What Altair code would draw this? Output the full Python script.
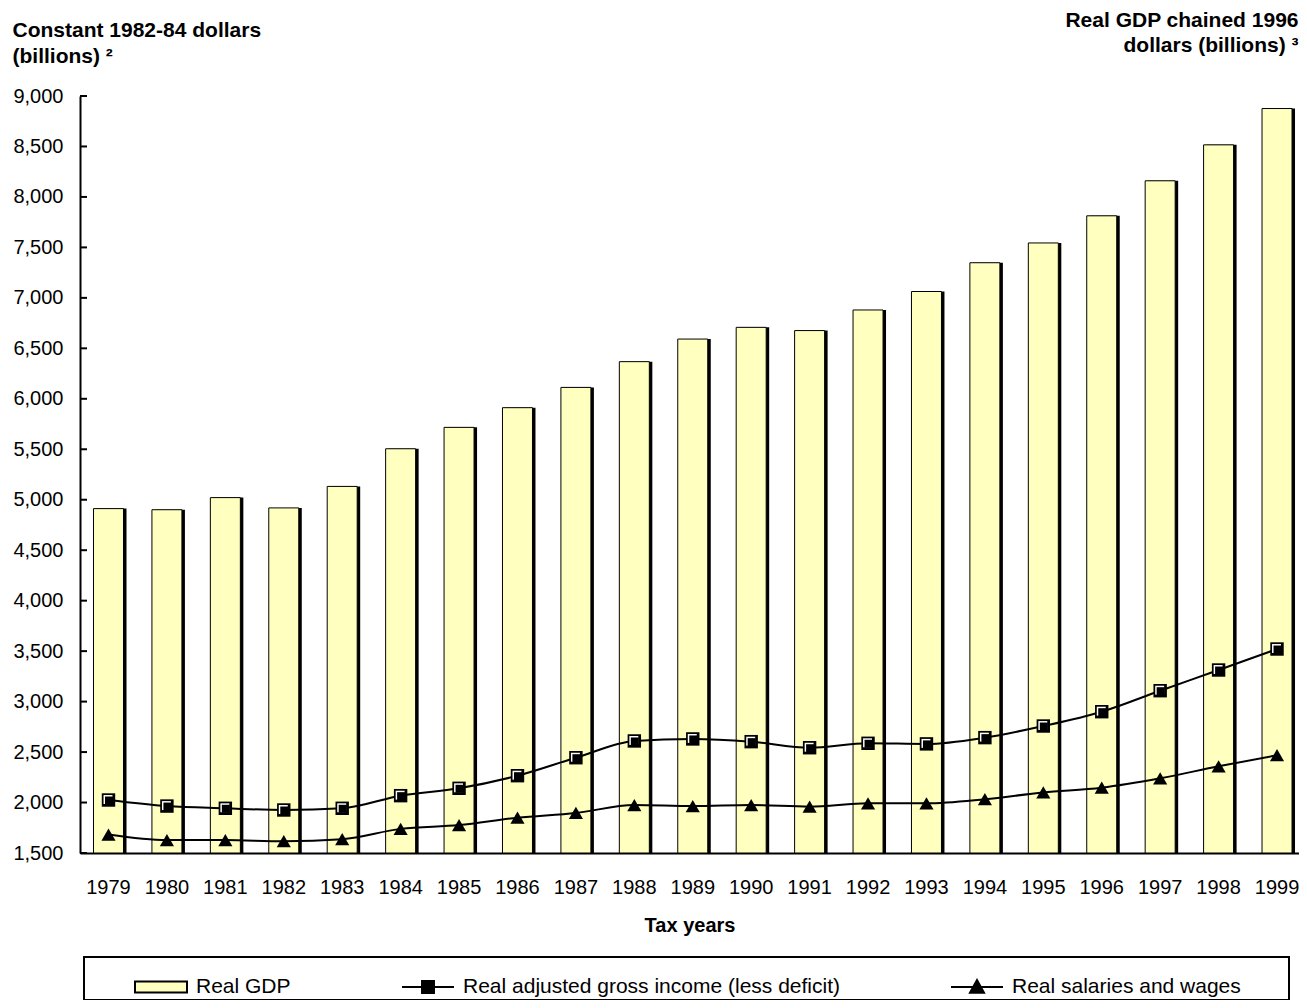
import altair as alt
import pandas as pd

years = list(range(1979, 2000))
real_gdp = [4912, 4901, 5021, 4919, 5132, 5505, 5717, 5912, 6113, 6368, 6592,
            6708, 6676, 6880, 7063, 7348, 7544, 7813, 8160, 8516, 8876]
real_agi = [2025, 1965, 1943, 1926, 1943, 2068, 2141, 2266, 2444, 2610, 2630,
            2603, 2543, 2587, 2581, 2643, 2758, 2900, 3108, 3313, 3521]
real_wages = [1683, 1628, 1628, 1617, 1637, 1739, 1777, 1850, 1897, 1975, 1965,
              1975, 1959, 1992, 1992, 2033, 2100, 2147, 2240, 2359, 2469]
y_ticks = list(range(1500, 9001, 500))
series_names = ["Real GDP", "Real adjusted gross income (less deficit)", "Real salaries and wages"]

FONT = "Liberation Sans"
YELLOW = "#FFFFC0"
FILLER = "\u2800" * 3

df = pd.DataFrame({"year": years, "gdp": real_gdp, "agi": real_agi, "wages": real_wages})
ticks_df = pd.DataFrame({"v": y_ticks})
legend_df = pd.DataFrame({"series": series_names})

x_enc = alt.X("year:O", title="Tax years",
              scale=alt.Scale(paddingInner=0.47, paddingOuter=0.167, align=0.667),
              axis=alt.Axis(labelAngle=0, ticks=False, labelFontSize=20, labelPadding=24,
                            labelFont=FONT, labelColor="black", domainColor="black", domainWidth=2,
                            titleFont=FONT, titleFontSize=20, titleFontWeight="bold",
                            titleColor="black", titlePadding=18))
y_scale = alt.Scale(domain=[1500, 9000], zero=False, nice=False)
y_axis = alt.Axis(values=y_ticks, format=",.0f", ticks=False, grid=False, labelFontSize=20,
                  labelFont=FONT, labelColor="black", labelPadding=17, domainColor="black",
                  domainWidth=2, title=["Constant 1982-84 dollars", "(billions) \u00b2"],
                  titleAngle=0, titleAlign="left", titleBaseline="alphabetic",
                  titleX=-68, titleY=-60, titleFont=FONT, titleFontSize=21,
                  titleFontWeight="bold", titleColor="black", titleLineHeight=26)

base = alt.Chart(df)

shadow = base.mark_bar(size=30, color="black", xOffset=3).encode(
    x=x_enc, y=alt.Y("gdp:Q", scale=y_scale, axis=y_axis), y2=alt.datum(1500))
bars = base.mark_bar(size=30, color=YELLOW, stroke="black", strokeWidth=1).encode(
    x="year:O", y="gdp:Q", y2=alt.datum(1500))

agi_line = base.mark_line(interpolate="monotone", color="black", strokeWidth=2).encode(
    x="year:O", y="agi:Q")
wage_line = base.mark_line(interpolate="monotone", color="black", strokeWidth=2).encode(
    x="year:O", y="wages:Q")

sq_outer = base.mark_point(shape="square", filled=True, color="black", size=180, opacity=1).encode(
    x="year:O", y="agi:Q")
sq_white = base.mark_point(shape="square", filled=True, color="white", size=80, opacity=1,
                           xOffset=-0.5, yOffset=-0.5).encode(x="year:O", y="agi:Q")
sq_inner = base.mark_point(shape="square", filled=True, color="black", size=64, opacity=1,
                           xOffset=0.5, yOffset=0.5).encode(x="year:O", y="agi:Q")
tri = base.mark_point(shape="triangle-up", filled=True, color="black", size=200, opacity=1).encode(
    x="year:O", y="wages:Q")

legend_paths = [
    "M-1,-0.21H1V0.21H-1Z",
    "M-1,0H1M-0.23,-0.23H0.23V0.23H-0.23Z",
    "M-1,0H1M-0.27,0.22L0,-0.27L0.27,0.22Z",
]
legend_layer = alt.Chart(legend_df).transform_filter("false").mark_point(
    filled=True, strokeWidth=2, opacity=1).encode(
    fill=alt.Fill("series:N", scale=alt.Scale(domain=series_names, range=[YELLOW, "black", "black"]),
                  legend=alt.Legend(title=" ", orient="none", legendX=4, legendY=861,
                                    direction="horizontal", columns=3, titleOrient="left",
                                    titlePadding=47, labelLimit=700,
                                    labelExpr="datum.label == 'Real salaries and wages' ? datum.label + '" + FILLER + "' : datum.label")),
    shape=alt.Shape("series:N", scale=alt.Scale(domain=series_names, range=legend_paths)),
    stroke=alt.value("black"),
)

main = alt.layer(shadow, bars, agi_line, wage_line, sq_outer, sq_white, sq_inner, tri, legend_layer)

right_axis = alt.Axis(orient="right", labels=False, ticks=False, domain=False, grid=False,
                      title=["Real GDP chained 1996", "dollars (billions) \u00b3"],
                      titleAngle=0, titleAlign="right", titleBaseline="alphabetic",
                      titleX=-1, titleY=-70, titleFont=FONT, titleFontSize=21,
                      titleFontWeight="bold", titleColor="black", titleLineHeight=25)
yticks = alt.Chart(ticks_df).mark_rule(color="black", strokeWidth=2).encode(
    y=alt.Y("v:Q", scale=y_scale, axis=right_axis), x=alt.value(0), x2=alt.value(7))

chart = alt.layer(main, yticks).resolve_scale(y="independent").properties(
    width=1219, height=757,
    autosize=alt.AutoSizeParams(type="none"),
    padding={"left": 72, "top": 88, "right": 0, "bottom": 147},
).configure_view(stroke=None).configure_legend(
    padding=3, strokeColor="black", strokeWidth=2, symbolSize=2704, symbolStrokeWidth=2,
    labelFont=FONT, labelFontSize=21, labelColor="black", columnPadding=107,
    labelOffset=8, gridAlign="none", titleFont=FONT, titleFontSize=20,
)

chart.save("out.html", embed_options={"renderer": "svg", "actions": False})
